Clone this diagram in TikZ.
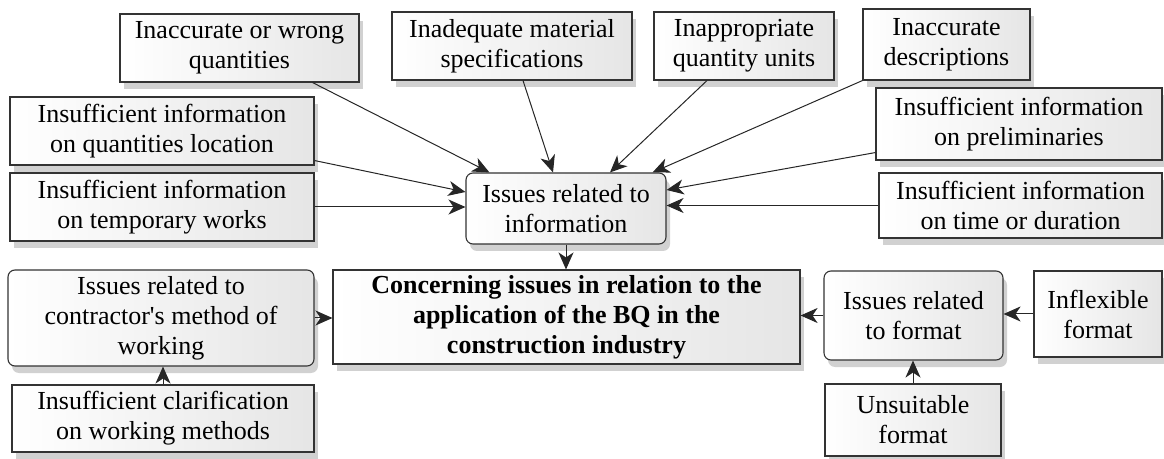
\documentclass[tikz,border=0pt]{standalone}
\usepackage{fontspec}
\setmainfont{Liberation Serif}
\usetikzlibrary{arrows.meta,shadows}
\begin{document}
\begin{tikzpicture}[x=1pt,y=1pt,
  font=\fontsize{26}{30}\selectfont,
  issue/.style={draw=black!80,line width=1.1pt,align=center,inner sep=0pt,
    left color=white,right color=black!10,
    drop shadow={shadow xshift=4pt,shadow yshift=-7pt,opacity=0.18,fill=black}},
  group/.style={issue,rounded corners=7pt},
  link/.style={draw=black!85,line width=1pt,-{Stealth[length=17pt,width=15pt,inset=5pt]}}]
\useasboundingbox (0,0) rectangle (1164,458);
\node[issue,minimum width=239pt,minimum height=68pt] (wrongqty) at (239.5,410) {Inaccurate or wrong\\quantities};
\node[issue,minimum width=240pt,minimum height=68pt] (material) at (512,412) {Inadequate material\\specifications};
\node[issue,minimum width=180pt,minimum height=68pt] (units) at (744,412) {Inappropriate\\quantity units};
\node[issue,minimum width=167pt,minimum height=71pt] (descr) at (946.5,413.5) {Inaccurate\\descriptions};
\node[issue,minimum width=304pt,minimum height=68pt] (location) at (162,327) {Insufficient information\\on quantities location};
\node[issue,minimum width=304pt,minimum height=68pt] (temporary) at (162,251) {Insufficient information\\on temporary works};
\node[issue,minimum width=286pt,minimum height=72pt] (prelim) at (1019,334) {Insufficient information\\on preliminaries};
\node[issue,minimum width=283pt,minimum height=65pt] (duration) at (1020.5,252.5) {Insufficient information\\on time or duration};
\node[group,minimum width=200pt,minimum height=71pt] (info) at (566,249.5) {Issues related to\\information};
\node[issue,minimum width=467pt,minimum height=94pt,font=\fontsize{26}{30}\selectfont\bfseries] (bq) at (566.5,141) {Concerning issues in relation to the\\application of the BQ in the\\construction industry};
\node[group,minimum width=306pt,minimum height=96pt] (method) at (161,140) {Issues related to\\contractor\textquotesingle s method of\\working};
\node[issue,minimum width=302pt,minimum height=67pt] (clarif) at (163,39.5) {Insufficient clarification\\on working methods};
\node[group,minimum width=179pt,minimum height=89pt] (format) at (913.5,142.5) {Issues related\\to format};
\node[issue,minimum width=128pt,minimum height=86pt] (inflex) at (1098,144) {Inflexible\\format};
\node[issue,minimum width=176pt,minimum height=72pt] (unsuit) at (913,38) {Unsuitable\\format};
\draw[link] ([xshift=-47pt]wrongqty.south east) -- ([xshift=24pt]info.north west);
\draw[link] ([xshift=11pt]material.south) -- ([xshift=-13pt]info.north);
\draw[link] ([xshift=-37pt]units.south) -- ([xshift=44pt]info.north);
\draw[link] (descr.south west) -- ([xshift=-14pt]info.north east);
\draw[link] ([yshift=5pt]location.south east) -- ([yshift=16.5pt]info.west);
\draw[link] (temporary.east) -- (temporary.east -| info.west);
\draw[link] ([yshift=8pt]prelim.south west) -- ([yshift=18.5pt]info.east);
\draw[link] (duration.west) -- (duration.west -| info.east);
\draw[link] (info.south) -- (info.south |- bq.north);
\draw[link] (method.east) -- (method.east -| bq.west);
\draw[link] (clarif.north) -- (clarif.north |- method.south);
\draw[link] (format.west) -- (format.west -| bq.east);
\draw[link] (inflex.west) -- (inflex.west -| format.east);
\draw[link] (unsuit.north) -- (unsuit.north |- format.south);
\end{tikzpicture}
\end{document}
